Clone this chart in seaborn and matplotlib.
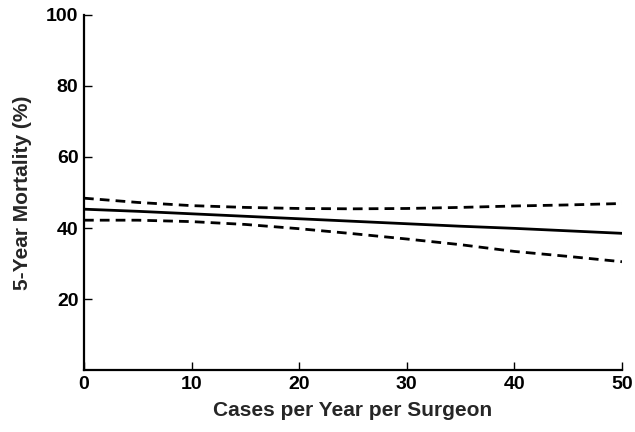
import pandas as pd
import numpy as np
import matplotlib
matplotlib.use('Agg')
import matplotlib.pyplot as plt
import seaborn as sns

# --- data ---
cases = [0, 5, 10, 15, 20, 25, 30, 35, 40, 45, 50]
mortality = [45.3, 44.7, 44.0, 43.3, 42.6, 41.9, 41.2, 40.5, 39.9, 39.2, 38.5]
upper_ci = [48.4, 47.2, 46.3, 45.8, 45.5, 45.4, 45.5, 45.8, 46.2, 46.5, 46.9]
lower_ci = [42.2, 42.2, 41.8, 41.0, 39.8, 38.4, 36.9, 35.3, 33.4, 32.0, 30.5]

x_ticks = [0, 10, 20, 30, 40, 50]
y_ticks = [20, 40, 60, 80, 100]

df = pd.DataFrame({
    'cases': cases * 3,
    'value': mortality + upper_ci + lower_ci,
    'series': ['fit'] * len(cases) + ['upper'] * len(cases) + ['lower'] * len(cases),
})

sns.set_theme(style="ticks")
plt.rcParams['font.family'] = ['Liberation Sans', 'DejaVu Sans']

fig = plt.figure(figsize=(6.35, 4.32), dpi=100)
ax = fig.add_axes([0.1323, 0.1435, 0.8472, 0.8218])

sns.lineplot(data=df, x='cases', y='value', hue='series', style='series',
             palette={'fit': 'black', 'upper': 'black', 'lower': 'black'},
             dashes={'fit': '', 'upper': (3.5, 2.2), 'lower': (3.5, 2.2)},
             linewidth=2.0, legend=False, ax=ax)

ax.set_xlim(0, 50)
ax.set_ylim(0, 100)
ax.set_xticks(x_ticks)
ax.set_yticks(y_ticks)
ax.tick_params(direction='in', length=6, width=1, colors='black', labelsize=14)
ax.tick_params(axis='x', pad=4)
ax.tick_params(axis='y', pad=4)
for lab in ax.get_xticklabels() + ax.get_yticklabels():
    lab.set_fontweight('bold')

ax.set_xlabel('Cases per Year per Surgeon', fontsize=15, fontweight='bold', labelpad=6)
ax.set_ylabel('5-Year Mortality (%)', fontsize=15, fontweight='bold', labelpad=10)

for side in ['top', 'right']:
    ax.spines[side].set_visible(False)
for side in ['left', 'bottom']:
    ax.spines[side].set_linewidth(1.6)
    ax.spines[side].set_color('black')

fig.savefig('out.png', dpi=100, facecolor='white')
